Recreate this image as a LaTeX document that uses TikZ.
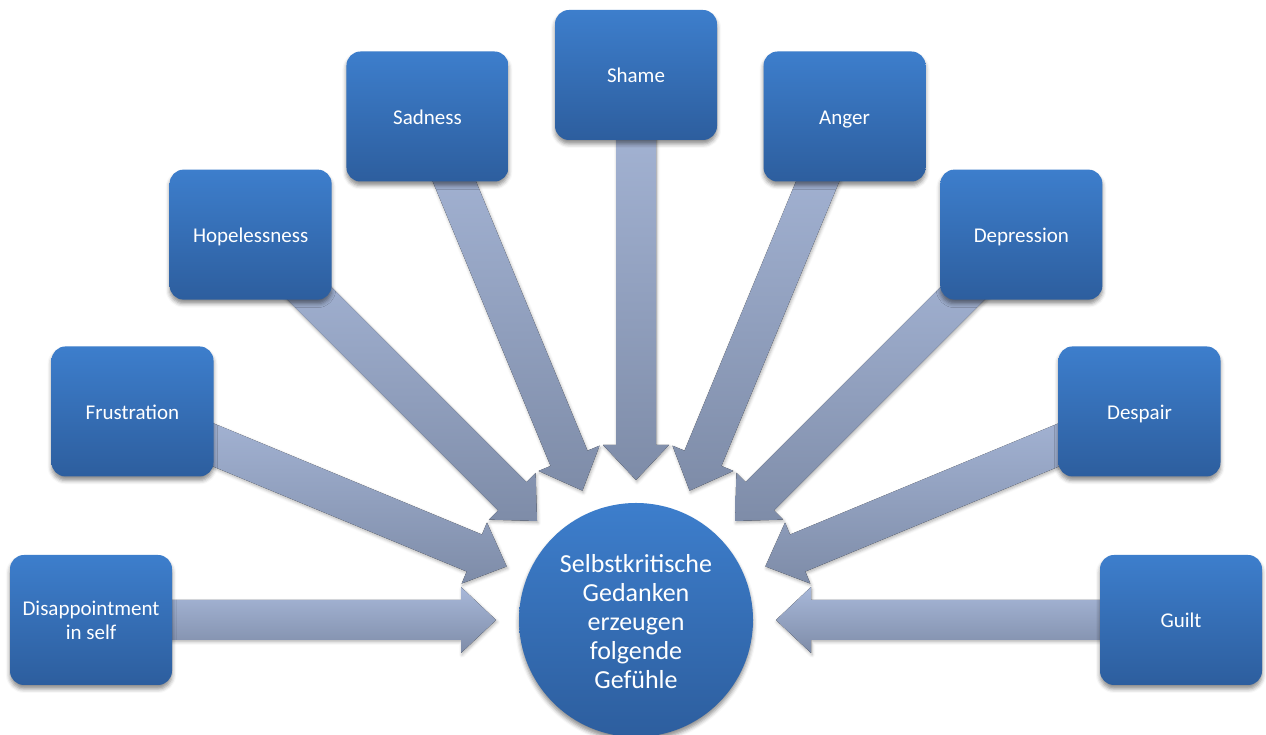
\documentclass[tikz,border=0pt]{standalone}
\usepackage{fontspec}
\setmainfont{Carlito}
\usetikzlibrary{calc,backgrounds,shadows.blur}
\definecolor{boxtop}{RGB}{61,126,204}
\definecolor{boxbot}{RGB}{45,94,158}
\definecolor{arrtop}{RGB}{168,184,217}
\definecolor{arrbot}{RGB}{126,140,168}
% strut with extra room above the first line, to lower the text a little
\newcommand\lowstrut[1]{\rule{0pt}{\dimexpr0.7\baselineskip+#1\relax}}
\tikzset{
  feeling/.style={rectangle, rounded corners=14pt, minimum width=162pt,
    minimum height=130pt, inner sep=2pt, top color=boxtop, bottom color=boxbot,
    draw=none, text=white, align=center, font=\fontsize{21}{24}\selectfont,
    blur shadow={shadow xshift=0pt, shadow yshift=-4pt, shadow blur radius=4pt, shadow opacity=45}},
  hub/.style={circle, minimum size=234pt, inner sep=0pt, top color=boxtop,
    bottom color=boxbot, draw=none, text=white, align=center,
    font=\fontsize{26}{29}\selectfont,
    blur shadow={shadow xshift=0pt, shadow yshift=-4pt, shadow blur radius=4pt, shadow opacity=45}},
  blockarrow/.style={top color=arrtop, bottom color=arrbot, draw=none,
    blur shadow={shadow xshift=1pt, shadow yshift=-2pt, shadow blur radius=3pt, shadow opacity=30}},
}
\begin{document}
\begin{tikzpicture}[x=1pt,y=1pt]
  \useasboundingbox (0,0) rectangle (1266,735);
  % central circle
  \node[hub] (hub) at (636,115)
    {\lowstrut{9pt}Selbstkritische\\Gedanken\\erzeugen\\folgende\\Gefühle\strut};
  % feelings arranged on an arc around the circle
  \foreach \k/\ang/\txt in {1/180/{Disappointment\\in self}, 2/157.5/Frustration,
      3/135/Hopelessness, 4/112.5/Sadness, 5/90/Shame, 6/67.5/Anger,
      7/45/Depression, 8/22.5/Despair, 9/0/Guilt}
    \node[feeling] (f\k) at ($(hub.center)+(\ang:545pt)$) {\lowstrut{6pt}\txt\strut};
  % block arrows from each feeling towards the circle
  \begin{scope}[on background layer]
    \foreach \k in {1,...,9} {
      \coordinate (H) at ($(hub)!175pt!(f\k)$);
      \coordinate (T) at ($(hub)!140pt!(f\k)$);
      \fill[blockarrow] ($(f\k)!20pt!90:(hub)$) -- ($(H)!20pt!90:(hub)$)
        -- ($(H)!33pt!90:(hub)$) -- (T) -- ($(H)!33pt!-90:(hub)$)
        -- ($(H)!20pt!-90:(hub)$) -- ($(f\k)!20pt!-90:(hub)$) -- cycle;
    }
  \end{scope}
\end{tikzpicture}
\end{document}
